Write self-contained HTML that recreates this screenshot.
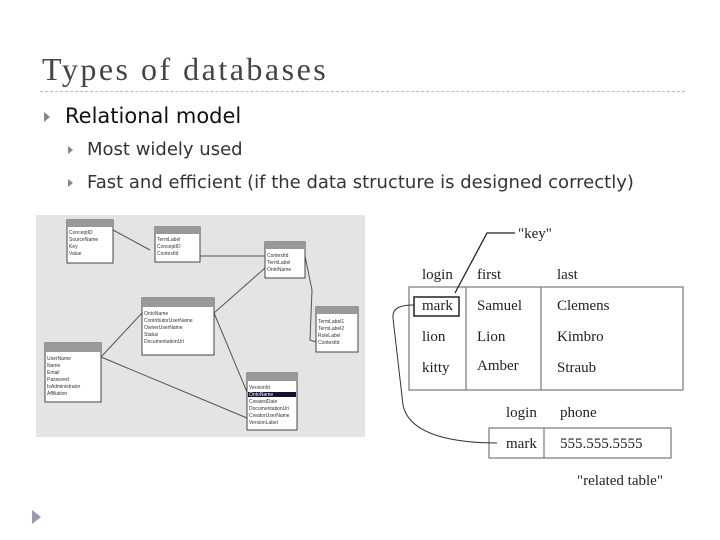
<!DOCTYPE html>
<html><head><meta charset="utf-8"><style>
body{margin:0;width:720px;height:540px;background:#fff;overflow:hidden;position:relative;font-family:"DejaVu Sans","Liberation Sans",sans-serif}
.t{position:absolute;left:42px;top:51px;font-family:"Liberation Serif",serif;font-size:32px;color:#444;letter-spacing:2.5px}
.hr{position:absolute;left:40px;top:91px;width:645px;border-top:1px dashed #bbb}
.b{position:absolute;color:#111;white-space:nowrap}
.tri{position:absolute;width:0;height:0;border-top:5px solid transparent;border-bottom:5px solid transparent;border-left:6px solid #888}
</style></head><body>
<div class="t">Types of databases</div>
<div class="hr"></div>
<div class="tri" style="left:44px;top:112px"></div>
<div class="b" style="left:65px;top:104px;font-size:21px">Relational model</div>
<div class="tri" style="left:68px;top:146px;border-top-width:4px;border-bottom-width:4px;border-left-width:5px"></div>
<div class="b" style="left:87px;top:139px;font-size:18px;color:#333">Most widely used</div>
<div class="tri" style="left:68px;top:179px;border-top-width:4px;border-bottom-width:4px;border-left-width:5px"></div>
<div class="b" style="left:87px;top:172px;font-size:18px;color:#333">Fast and efficient (if the data structure is designed correctly)</div>
<div class="tri" style="left:32px;top:510px;border-top-width:7px;border-bottom-width:7px;border-left-width:9px;border-left-color:#99a"></div>
<svg width="720" height="540" style="position:absolute;left:0;top:0" font-family="Liberation Sans,sans-serif">
<rect x="36" y="215" width="329" height="222" fill="#e4e4e4"/>
<g stroke="#555" stroke-width="1" fill="none">
<path d="M113 230 L150 250"/><path d="M200 256 L265 256"/><path d="M214 313 L265 268"/>
<path d="M305 256 L312 290 L310 340 L316 342"/><path d="M101 357 L142 313"/><path d="M101 357 L247 418"/>
<path d="M214 313 L247 392"/>
</g>
<g fill="#fff" stroke="#444">
<rect x="67" y="220" width="46" height="43"/><rect x="155" y="227" width="45" height="35"/>
<rect x="265" y="242" width="40" height="36"/><rect x="142" y="298" width="72" height="57"/>
<rect x="316" y="307" width="42" height="45"/><rect x="45" y="343" width="56" height="59"/>
<rect x="247" y="373" width="50" height="57"/>
</g>
<g fill="#999">
<rect x="67" y="220" width="46" height="7"/><rect x="155" y="227" width="45" height="7"/>
<rect x="265" y="242" width="40" height="7"/><rect x="142" y="298" width="72" height="9"/>
<rect x="316" y="307" width="42" height="7"/><rect x="45" y="343" width="56" height="9"/>
<rect x="247" y="373" width="50" height="8"/><rect x="248" y="392" width="48" height="5" fill="#113"/>
</g>
<g font-size="5" fill="#333">
<text x="69" y="234">ConceptID</text><text x="69" y="241">SourceName</text><text x="69" y="248">Key</text><text x="69" y="255">Value</text>
<text x="157" y="241">TermLabel</text><text x="157" y="248">ConceptID</text><text x="157" y="255">ContextId</text>
<text x="267" y="257">ContextId</text><text x="267" y="264">TermLabel</text><text x="267" y="271">OntoName</text>
<text x="144" y="315">OntoName</text><text x="144" y="322">ContributorUserName</text><text x="144" y="329">OwnerUserName</text><text x="144" y="336">Status</text><text x="144" y="343">DocumentationUri</text>
<text x="318" y="323">TermLabel1</text><text x="318" y="330">TermLabel2</text><text x="318" y="337">RoleLabel</text><text x="318" y="344">ContextId</text>
<text x="47" y="360">UserName</text><text x="47" y="367">Name</text><text x="47" y="374">Email</text><text x="47" y="381">Password</text><text x="47" y="388">IsAdministrator</text><text x="47" y="395">Affiliation</text>
<text x="249" y="389">VersionId</text><text x="249" y="396" fill="#fff">OntoName</text><text x="249" y="403">CreatedDate</text><text x="249" y="410">DocumentationUri</text><text x="249" y="417">CreatorUserName</text><text x="249" y="424">VersionLabel</text>
</g>
<g stroke="#777" fill="none" stroke-width="1.2">
<rect x="409" y="287" width="274" height="103"/><line x1="466" y1="287" x2="466" y2="390"/><line x1="541" y1="287" x2="541" y2="390"/>
<rect x="489" y="428" width="182" height="30"/><line x1="544" y1="428" x2="544" y2="458"/>
</g>
<rect x="414" y="297" width="45" height="19" fill="none" stroke="#222" stroke-width="1.5"/>
<path d="M455 293 L487 233 L515 233" fill="none" stroke="#222" stroke-width="1.3"/>
<path d="M414 305 C400 305 392 308 393 318 L403 405 C410 440 470 443 497 443" fill="none" stroke="#333" stroke-width="1"/>
<g font-family="Liberation Serif,serif" font-size="15" fill="#222">
<text x="518" y="238">"key"</text>
<text x="422" y="279">login</text><text x="477" y="279">first</text><text x="557" y="279">last</text>
<text x="422" y="310">mark</text><text x="477" y="310">Samuel</text><text x="557" y="310">Clemens</text>
<text x="422" y="341">lion</text><text x="477" y="341">Lion</text><text x="557" y="341">Kimbro</text>
<text x="422" y="372">kitty</text><text x="477" y="370">Amber</text><text x="557" y="372">Straub</text>
<text x="506" y="417">login</text><text x="560" y="417">phone</text>
<text x="506" y="448">mark</text><text x="560" y="448">555.555.5555</text>
<text x="577" y="485">"related table"</text>
</g>
</svg>
</body></html>
